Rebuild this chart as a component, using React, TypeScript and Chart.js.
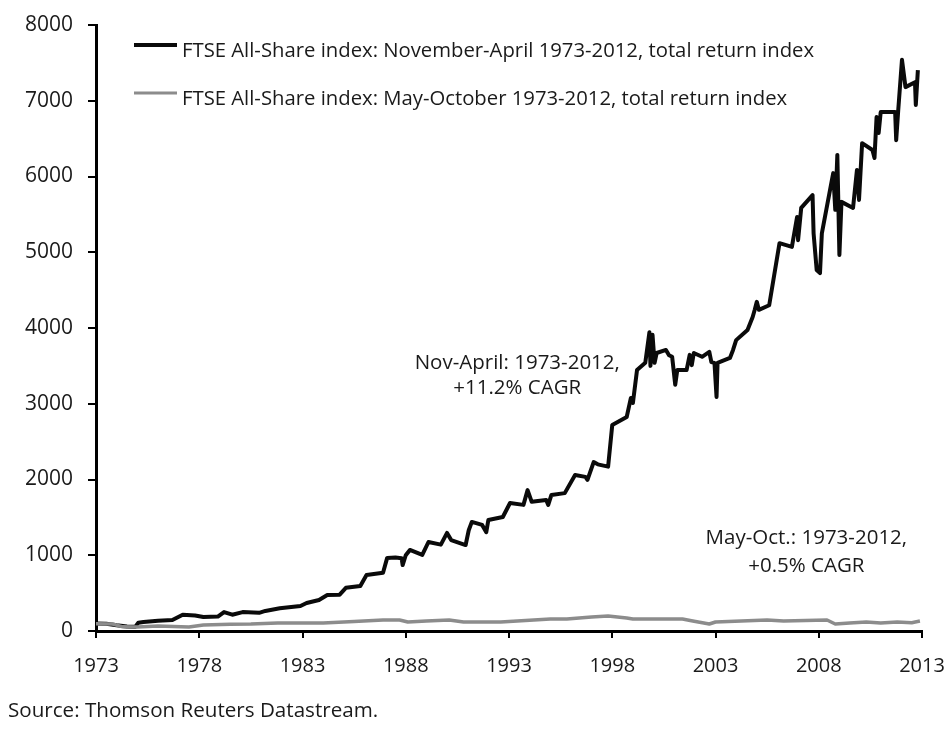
import React, { useEffect, useRef } from 'react';
import { Chart, registerables } from 'chart.js';

Chart.register(...registerables);

// ---- Data ----
const seriesLabels = [
  'FTSE All-Share index: November-April 1973-2012, total return index',
  'FTSE All-Share index: May-October 1973-2012, total return index',
];

const novAprYears = [
  1973.0, 1973.5, 1974.0, 1974.5, 1974.9, 1975.05, 1975.3, 1976.0, 1976.7, 1977.2,
  1977.8, 1978.2, 1978.9, 1979.2, 1979.6, 1980.1, 1980.9, 1981.2, 1981.9, 1982.9,
  1983.2, 1983.8, 1984.2, 1984.8, 1985.1, 1985.8, 1986.1, 1986.9, 1987.1, 1987.5,
  1987.8, 1987.85, 1988.0, 1988.2, 1988.8, 1989.1, 1989.7, 1990.0, 1990.2, 1990.9,
  1991.05, 1991.2, 1991.7, 1991.9, 1992.0, 1992.7, 1993.05, 1993.7, 1993.9, 1994.1,
  1994.8, 1994.9, 1995.05, 1995.7, 1996.2, 1996.7, 1996.8, 1997.1, 1997.3, 1997.8,
  1998.0, 1998.7, 1998.9, 1999.0, 1999.2, 1999.6, 1999.8, 1999.85, 1999.95, 2000.05,
  2000.15, 2000.6, 2000.75, 2000.9, 2001.05, 2001.15, 2001.6, 2001.75, 2001.85, 2001.95,
  2002.35, 2002.7, 2002.8, 2002.95, 2003.05, 2003.1, 2003.7, 2003.85, 2004.0, 2004.55,
  2004.8, 2004.9, 2005.0, 2005.1, 2005.6, 2006.1, 2006.7, 2006.95, 2007.0, 2007.15,
  2007.7, 2007.75, 2007.9, 2008.06, 2008.15, 2008.7, 2008.8, 2008.9, 2009.0, 2009.1,
  2009.66, 2009.85, 2009.95, 2010.1, 2010.6, 2010.7, 2010.8, 2010.9, 2011.0, 2011.7,
  2011.75, 2011.85, 2012.03, 2012.2, 2012.66, 2012.7, 2012.8,
];
const novAprValues = [
  100, 95, 75, 60, 55, 110, 120, 135, 145, 215,
  205, 185, 190, 250, 215, 250, 240, 265, 300, 330,
  370, 410, 475, 480, 570, 595, 740, 770, 965, 970,
  960, 870, 1000, 1070, 1005, 1175, 1140, 1295, 1200, 1135,
  1330, 1440, 1400, 1305, 1465, 1505, 1690, 1665, 1860, 1705,
  1730, 1665, 1795, 1820, 2060, 2035, 1995, 2230, 2200, 2170,
  2720, 2825, 3075, 3010, 3445, 3540, 3945, 3500, 3910, 3540,
  3670, 3710, 3640, 3620, 3250, 3445, 3445, 3645, 3510, 3670,
  3620, 3685, 3550, 3540, 3090, 3540, 3605, 3710, 3840, 3975,
  4145, 4240, 4345, 4240, 4300, 5120, 5070, 5465, 5160, 5585,
  5755, 5250, 4765, 4725, 5250, 6045, 5560, 6285, 4965, 5665,
  5585, 6085, 5690, 6440, 6350, 6245, 6785, 6575, 6850, 6850,
  6480, 6880, 7540, 7180, 7245, 6945, 7405,
];

const mayOctYears = [
  1973.0, 1973.8, 1974.3, 1975.0, 1976.0, 1977.5, 1978.2, 1979.5, 1980.5, 1981.8,
  1984.0, 1985.5, 1986.9, 1987.7, 1988.1, 1989.0, 1990.1, 1990.8, 1992.6, 1993.4,
  1995.0, 1995.8, 1997.0, 1997.8, 1998.7, 1999.0, 2001.4, 2001.9, 2002.7, 2003.0,
  2005.5, 2006.3, 2008.4, 2008.8, 2009.5, 2010.3, 2011.0, 2011.8, 2012.5, 2012.9,
];
const mayOctValues = [
  95, 92, 55, 53, 66, 53, 79, 88, 92, 106,
  106, 125, 145, 145, 119, 132, 145, 119, 119, 132,
  158, 158, 185, 198, 172, 158, 158, 132, 92, 119,
  145, 132, 145, 92, 106, 119, 106, 119, 110, 132,
];

const xTickYears = [1973, 1978, 1983, 1988, 1993, 1998, 2003, 2008, 2013];
const yTickValues = [0, 1000, 2000, 3000, 4000, 5000, 6000, 7000, 8000];

const annotationLines = [
  ['Nov-April: 1973-2012,', '+11.2% CAGR'],
  ['May-Oct.: 1973-2012,', '+0.5% CAGR'],
];
const sourceText = 'Source: Thomson Reuters Datastream.';

// ---- Styling ----
const FONT = '"Open Sans", "DejaVu Sans", sans-serif';
const TEXT_COLOR = '#1a1a1a';
const BLACK = '#0a0a0a';
const GREY = '#8c8c8c';

const overlayPlugin = {
  id: 'overlay',
  afterDraw(chart: any) {
    const ctx = chart.ctx as CanvasRenderingContext2D;
    const xs = chart.scales.x;
    const ys = chart.scales.y;
    ctx.save();

    // Legend (inside plot area, top-left)
    chart.data.datasets.forEach((ds: any, i: number) => {
      const rowY = 45 + i * 48;
      ctx.strokeStyle = ds.borderColor;
      ctx.lineWidth = i === 0 ? 4 : 3;
      ctx.lineCap = 'butt';
      ctx.beginPath();
      ctx.moveTo(134, rowY);
      ctx.lineTo(177, rowY);
      ctx.stroke();
      ctx.fillStyle = TEXT_COLOR;
      ctx.font = `20.3px ${FONT}`;
      ctx.textAlign = 'left';
      ctx.textBaseline = 'alphabetic';
      ctx.fillText(ds.label, 182, rowY + 12);
    });

    // Annotations anchored in data space
    const anchors = [
      { x: 1993.4, y: 3460, gap: 25 },
      { x: 2007.4, y: 1150, gap: 28 },
    ];
    ctx.font = `20.5px ${FONT}`;
    ctx.textAlign = 'center';
    ctx.fillStyle = TEXT_COLOR;
    annotationLines.forEach((lines, i) => {
      const a = anchors[i];
      const px = xs.getPixelForValue(a.x);
      const py = ys.getPixelForValue(a.y);
      lines.forEach((t, j) => ctx.fillText(t, px, py + j * a.gap));
    });

    // Source note
    ctx.textAlign = 'left';
    ctx.font = `20.6px ${FONT}`;
    ctx.fillText(sourceText, 8, 717);
    ctx.restore();
  },
};

export default function App() {
  const canvasRef = useRef<HTMLCanvasElement | null>(null);

  useEffect(() => {
    const canvas = canvasRef.current;
    if (!canvas) return;
    const chart = new Chart(canvas, {
      type: 'line',
      data: {
        datasets: [
          {
            label: seriesLabels[0],
            data: novAprYears.map((x, i) => ({ x, y: novAprValues[i] })),
            borderColor: BLACK,
            borderWidth: 4,
            pointRadius: 0,
            tension: 0,
            order: 1,
            borderJoinStyle: 'round',
          },
          {
            label: seriesLabels[1],
            data: mayOctYears.map((x, i) => ({ x, y: mayOctValues[i] })),
            borderColor: GREY,
            borderWidth: 3.5,
            pointRadius: 0,
            tension: 0,
            order: 0,
            borderJoinStyle: 'round',
          },
        ],
      },
      options: {
        responsive: false,
        animation: false,
        layout: { padding: { top: 25, right: 29, bottom: 0, left: 0 } },
        plugins: {
          legend: { display: false },
          tooltip: { enabled: false },
        },
        scales: {
          x: {
            type: 'linear',
            min: 1973,
            max: 2013,
            afterBuildTicks: (s: any) => {
              s.ticks = xTickYears.map((v) => ({ value: v }));
            },
            afterFit: (s: any) => {
              s.height = 104;
              s.paddingLeft = 0;
              s.paddingRight = 0;
            },
            grid: {
              drawOnChartArea: false,
              drawTicks: true,
              tickLength: 7,
              color: '#000',
              lineWidth: 2,
            },
            border: { display: true, color: '#000', width: 3 },
            ticks: {
              callback: (v: any) => String(v),
              color: TEXT_COLOR,
              font: { family: FONT, size: 20 },
              padding: 16,
              maxRotation: 0,
              autoSkip: false,
            },
          },
          y: {
            type: 'linear',
            min: 0,
            max: 8000,
            afterBuildTicks: (s: any) => {
              s.ticks = yTickValues.map((v) => ({ value: v }));
            },
            afterFit: (s: any) => {
              s.width = 96;
              s.paddingTop = 0;
              s.paddingBottom = 0;
            },
            grid: {
              drawOnChartArea: false,
              drawTicks: true,
              tickLength: 8,
              color: '#000',
              lineWidth: 2,
            },
            border: { display: true, color: '#000', width: 3 },
            ticks: {
              callback: (v: any) => String(v),
              color: TEXT_COLOR,
              font: { family: FONT, size: 21 },
              padding: 15,
            },
          },
        },
      },
      plugins: [overlayPlugin],
    });
    return () => chart.destroy();
  }, []);

  return (
    <div style={{ position: 'absolute', left: 0, top: 0, width: 951, height: 735, background: '#fff' }}>
      <canvas ref={canvasRef} width={951} height={735} style={{ width: 951, height: 735, display: 'block' }} />
    </div>
  );
}
